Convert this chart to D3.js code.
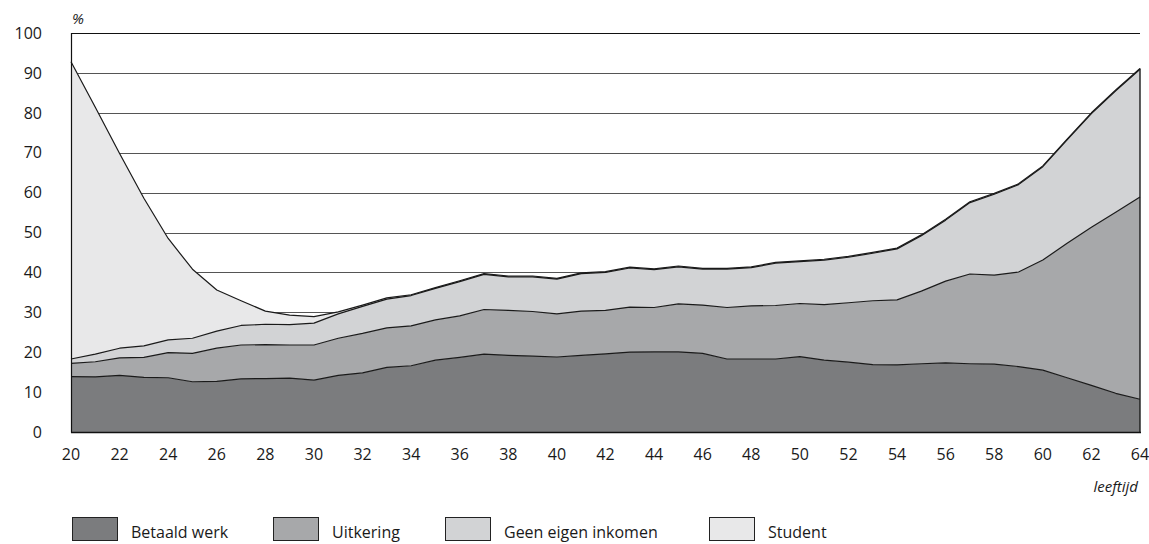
<!DOCTYPE html>
<html>
<head>
<meta charset="utf-8">
<script src="https://cdn.jsdelivr.net/npm/d3@7"></script>
<style>
  html, body { margin: 0; padding: 0; background: #fff; }
  svg text { font-family: "Open Sans", "Noto Sans", sans-serif; fill: #1a1a1a; }
</style>
</head>
<body>
<svg id="chart" width="1149" height="544"></svg>
<script>
const ages = d3.range(20, 65);
const betaaldWerk = [13.9,13.8,14.2,13.7,13.6,12.6,12.7,13.3,13.4,13.5,13.0,14.2,14.8,16.2,16.6,18.0,18.7,19.5,19.2,19.0,18.8,19.2,19.6,20.0,20.1,20.1,19.7,18.3,18.3,18.3,18.9,18.0,17.5,16.9,16.8,17.1,17.3,17.1,17.0,16.4,15.5,13.6,11.7,9.7,8.2];
const uitkering = [3.3,3.8,4.4,5.0,6.3,7.1,8.3,8.5,8.5,8.3,8.8,9.3,9.9,9.9,10.0,10.1,10.4,11.2,11.3,11.2,10.8,11.1,10.9,11.3,11.1,12.0,12.1,12.9,13.3,13.4,13.3,13.9,14.9,16.0,16.3,18.2,20.5,22.5,22.3,23.7,27.6,33.7,39.6,45.4,50.7];
const geenEigenInkomen = [1.1,1.9,2.4,2.9,3.2,3.8,4.3,4.9,5.1,5.1,5.5,6.1,6.8,7.2,7.6,7.9,8.6,8.8,8.4,8.7,8.7,9.4,9.5,9.8,9.5,9.3,9.0,9.6,9.6,10.6,10.5,11.2,11.4,11.9,12.8,13.9,15.3,17.9,20.3,21.9,23.4,25.9,28.5,30.4,32.0];
const student = [74.5,61.9,48.8,37.0,25.4,17.3,10.3,6.2,3.3,2.4,1.6,0.5,0.3,0.3,0.2,0.2,0.2,0.2,0.2,0.2,0.2,0.2,0.2,0.2,0.2,0.2,0.2,0.2,0.2,0.2,0.2,0.2,0.2,0.2,0.2,0.2,0.2,0.2,0.2,0.2,0.2,0.2,0.2,0.2,0.2];
const seriesNames = ["Betaald werk", "Uitkering", "Geen eigen inkomen", "Student"];
const seriesColors = ["#7b7c7e", "#a7a8aa", "#d2d3d5", "#e8e8e9"];
const yTicks = [0,10,20,30,40,50,60,70,80,90,100];
const xTicks = d3.range(20, 65, 2);

const rows = ages.map((a, i) => ({
  age: a,
  "Betaald werk": betaaldWerk[i],
  "Uitkering": uitkering[i],
  "Geen eigen inkomen": geenEigenInkomen[i],
  "Student": student[i]
}));

const svg = d3.select("#chart");
const x = d3.scaleLinear().domain([20, 64]).range([71, 1140]);
const y = d3.scaleLinear().domain([0, 100]).range([432, 33]);

// gridlines
svg.append("g").selectAll("line").data(yTicks.filter(d => d > 0)).join("line")
  .attr("x1", 71).attr("x2", 1140)
  .attr("y1", d => Math.round(y(d)) + 0.5).attr("y2", d => Math.round(y(d)) + 0.5)
  .attr("stroke", d => d === 100 ? "#111" : "#555")
  .attr("stroke-width", 1.1);

const stacked = d3.stack().keys(seriesNames)(rows);
const area = d3.area().x(d => x(d.data.age)).y0(d => y(d[0])).y1(d => y(d[1]));
const line = d3.line().x(d => x(d.data.age)).y(d => y(d[1]));

const g = svg.append("g");
stacked.forEach((s, i) => {
  g.append("path").datum(s).attr("d", area).attr("fill", seriesColors[i]).attr("stroke", "none");
});
stacked.forEach((s, i) => {
  g.append("path").datum(s).attr("d", line).attr("fill", "none")
    .attr("stroke", "#1a1a1a").attr("stroke-width", 1.2).attr("stroke-linejoin", "round");
});
// right edge of the area
const last = stacked[stacked.length - 1][ages.length - 1];
g.append("line").attr("x1", x(64)).attr("x2", x(64)).attr("y1", y(0)).attr("y2", y(last[1]))
  .attr("stroke", "#1a1a1a").attr("stroke-width", 1.4);

// axes lines
svg.append("line").attr("x1", 71.5).attr("x2", 71.5).attr("y1", y(100)).attr("y2", y(0) + 0.5)
  .attr("stroke", "#111").attr("stroke-width", 1.2);
svg.append("line").attr("x1", 71).attr("x2", 1141).attr("y1", y(0) + 0.5).attr("y2", y(0) + 0.5)
  .attr("stroke", "#111").attr("stroke-width", 1.4);

// y tick labels
svg.append("g").selectAll("text").data(yTicks).join("text")
  .attr("x", 42).attr("y", d => y(d)).attr("dy", "0.36em")
  .attr("text-anchor", "end").attr("font-size", 16).text(d => d);

// x tick labels
svg.append("g").selectAll("text").data(xTicks).join("text")
  .attr("x", d => x(d)).attr("y", 454).attr("dy", "0.36em")
  .attr("text-anchor", "middle").attr("font-size", 16).text(d => d);

svg.append("text").attr("x", 72).attr("y", 24).attr("font-size", 15)
  .attr("font-style", "italic").text("%");
svg.append("text").attr("x", 1138).attr("y", 492).attr("font-size", 15)
  .attr("font-style", "italic").attr("text-anchor", "end").text("leeftijd");

// legend
const legendX = [72, 273, 445, 709];
const lg = svg.append("g");
seriesNames.forEach((n, i) => {
  lg.append("rect").attr("x", legendX[i] + 0.5).attr("y", 517.5).attr("width", 45).attr("height", 23)
    .attr("fill", seriesColors[i]).attr("stroke", "#222").attr("stroke-width", 1);
  lg.append("text").attr("x", legendX[i] + 59).attr("y", 538).attr("font-size", 16).text(n);
});
</script>
</body>
</html>
